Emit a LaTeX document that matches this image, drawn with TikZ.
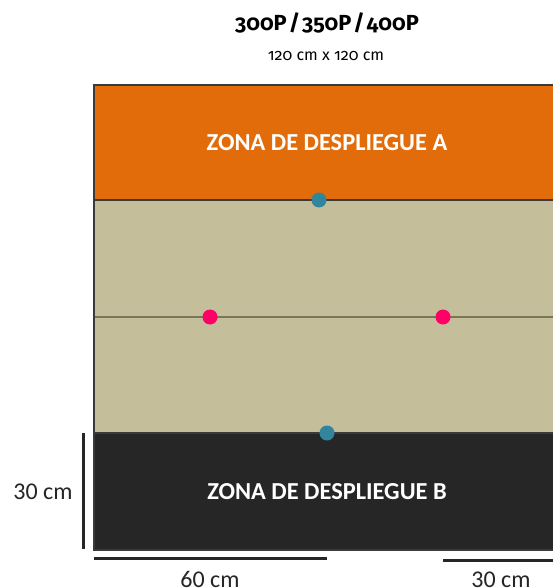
\documentclass[tikz,border=0pt]{standalone}
\usepackage{fontspec}
\setmainfont{Carlito}
\newfontfamily\titlefont[Numbers=OldStyle]{Fira Sans}
\definecolor{zoneA}{HTML}{E36C0A}
\definecolor{midtan}{HTML}{C4BF9A}
\definecolor{zoneB}{HTML}{262626}
\definecolor{dotblue}{HTML}{31859C}
\definecolor{dotpink}{HTML}{FF0066}
\definecolor{midline}{HTML}{7A7658}
\definecolor{edge}{HTML}{3A3A3A}
\tikzset{
  dotstyle/.style={circle, inner sep=0pt, minimum size=15pt},
  zonelabel/.style={text=white, font=\bfseries\fontsize{24.4}{26}\selectfont, inner sep=0pt},
  dimlabel/.style={text=black!85, font=\fontsize{24}{26}\selectfont, inner sep=0pt},
  dimbar/.style={line width=3pt, black!85}
}
\begin{document}
\begin{tikzpicture}[x=1pt,y=-1pt]
\useasboundingbox (0,0) rectangle (552,588);
\fill[white] (0,0) rectangle (552,588);
% board
\fill[zoneA] (94,85) rectangle (580,200);
\fill[midtan] (94,200) rectangle (580,433);
\fill[zoneB] (94,433) rectangle (580,550);
\draw[midline, line width=1.5pt] (94,317) -- (580,317);
\draw[edge, line width=1.2pt] (94,200) -- (580,200);
\draw[edge, line width=1.2pt] (94,433) -- (580,433);
\draw[edge, line width=1.8pt] (94,85) rectangle (580,550);
% titles
\node[inner sep=0pt, font=\titlefont\bfseries\fontsize{21.8}{24}\selectfont] (title) at (327,23) {300P\kern2pt/\kern2pt350P\kern2pt/\kern2pt400P};
\node[inner sep=0pt, font=\titlefont\fontsize{16}{18}\selectfont] (sub) at (326,56) {120 cm x 120 cm};
% zone labels
\node[zonelabel] (za) at (327,143) {ZONA DE DESPLIEGUE A};
\node[zonelabel] (zb) at (327,492) {ZONA DE DESPLIEGUE B};
% dots
\node[dotstyle, fill=dotblue] (b1) at (319,200) {};
\node[dotstyle, fill=dotblue] (b2) at (327,433) {};
\node[dotstyle, fill=dotpink] (p1) at (210,317) {};
\node[dotstyle, fill=dotpink] (p2) at (443,317) {};
% dimensions
\coordinate (v1) at (83,433);
\coordinate (v2) at (83,549);
\draw[dimbar] (v1) -- (v2);
\node[dimlabel] (d30a) at (43,492) {30 cm};
\coordinate (h1) at (94,558);
\coordinate (h2) at (327,558);
\draw[dimbar] (h1) -- (h2);
\node[dimlabel, anchor=base] (d60) at (210,587) {60 cm};
\coordinate (h3) at (443,560);
\coordinate (h4) at (570,560);
\draw[dimbar] (h3) -- (h4);
\node[dimlabel, anchor=base] (d30b) at (501,587) {30 cm};
\end{tikzpicture}
\end{document}
